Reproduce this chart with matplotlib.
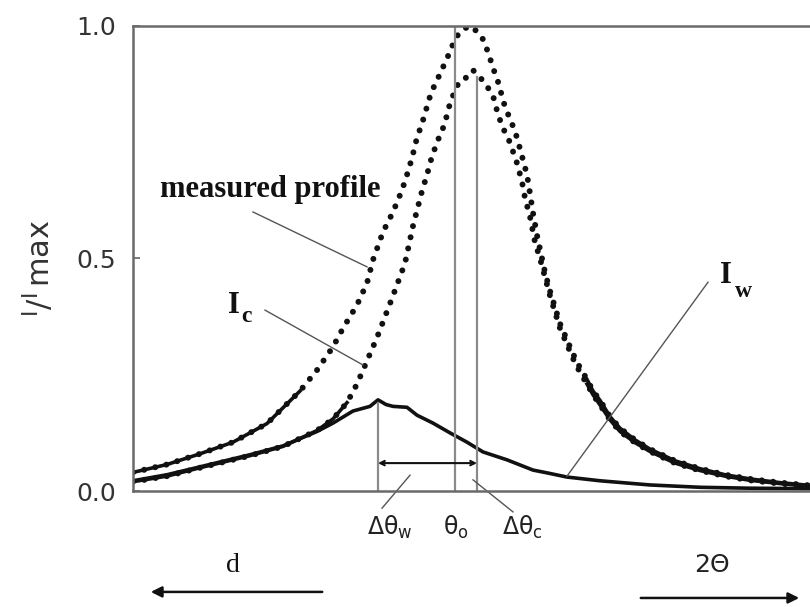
import numpy as np
import matplotlib
matplotlib.use('Agg')
import matplotlib.pyplot as plt

# measured profile (arbitrary 2-theta units, intensity normalised to I_max)
meas_x = [0.0, 3.4, 6.7, 10.0, 13.4, 16.7, 18.4, 20.0, 21.0, 22.4,
          23.4, 24.0, 25.0, 26.0, 26.9, 27.4, 27.9, 28.4, 28.9, 29.8,
          30.7, 31.6, 32.1, 32.6, 33.2, 33.7, 34.3, 34.9, 35.5, 36.0,
          36.5, 37.2, 37.9, 38.4, 38.9, 39.4, 39.7, 40.0, 40.4, 40.7,
          41.2, 41.7, 42.2, 42.7, 43.4, 44.0, 44.7, 45.4, 46.0, 46.7,
          47.7, 48.7, 50.2, 51.7, 54.2, 56.7, 59.2, 61.7, 64.7, 67.7]
meas_y = [0.040, 0.057, 0.080, 0.105, 0.145, 0.215, 0.260, 0.310, 0.350, 0.400,
          0.447, 0.497, 0.557, 0.600, 0.647, 0.680, 0.716, 0.760, 0.790, 0.856,
          0.897, 0.940, 0.966, 0.985, 0.995, 1.000, 0.990, 0.976, 0.944, 0.910,
          0.880, 0.826, 0.790, 0.760, 0.720, 0.680, 0.640, 0.598, 0.550, 0.520,
          0.470, 0.430, 0.395, 0.360, 0.325, 0.295, 0.265, 0.240, 0.215, 0.195,
          0.160, 0.135, 0.110, 0.090, 0.065, 0.048, 0.035, 0.026, 0.018, 0.012]

# I_c component
ic_x = [0.0, 3.4, 6.7, 11.7, 15.0, 18.4, 20.0, 21.4, 22.4, 23.4,
        24.4, 25.2, 26.0, 27.2, 28.0, 28.9, 29.4, 29.9, 30.7, 31.2,
        31.5, 32.0, 32.5, 33.0, 33.5, 34.0, 34.7, 35.5, 36.0, 36.5,
        37.0, 37.5, 38.0, 38.4, 38.9, 39.2, 39.7, 40.2, 40.7, 41.2,
        41.7, 42.2, 42.7, 43.4, 44.0, 44.7, 45.4, 46.0, 46.7, 47.7,
        48.7, 50.2, 51.7, 54.2, 56.7, 59.2, 61.7, 64.7, 67.7]
ic_y = [0.020, 0.032, 0.050, 0.076, 0.096, 0.130, 0.155, 0.190, 0.230, 0.280,
        0.330, 0.375, 0.420, 0.490, 0.570, 0.645, 0.680, 0.720, 0.766, 0.790,
        0.820, 0.850, 0.875, 0.880, 0.895, 0.905, 0.890, 0.867, 0.850, 0.810,
        0.780, 0.760, 0.730, 0.705, 0.665, 0.630, 0.590, 0.535, 0.500, 0.460,
        0.420, 0.385, 0.350, 0.315, 0.285, 0.255, 0.230, 0.207, 0.185, 0.153,
        0.128, 0.104, 0.085, 0.060, 0.044, 0.032, 0.023, 0.016, 0.010]

# I_w component
iw_x = [0.0, 3.4, 6.7, 11.7, 15.0, 18.4, 20.0, 22.0, 23.7, 24.5,
        25.3, 26.0, 27.4, 28.4, 30.0, 31.7, 33.4, 35.0, 37.4, 40.0,
        41.4, 43.4, 46.7, 51.7, 56.7, 61.7, 67.7]
iw_y = [0.022, 0.035, 0.052, 0.078, 0.097, 0.128, 0.146, 0.172, 0.182, 0.196,
        0.186, 0.182, 0.180, 0.163, 0.146, 0.125, 0.105, 0.084, 0.067, 0.045,
        0.039, 0.030, 0.022, 0.013, 0.008, 0.006, 0.005]

# marker positions
theta_o = 32.2
theta_c = 34.4
theta_w = 24.5

ink = '#111111'
grey = '#8a8a8a'
lead = '#555555'
serif = 'Liberation Serif'

fig = plt.figure(figsize=(8.1, 6.07), dpi=100)
ax = fig.add_axes([0.1642, 0.1911, 0.8358, 0.7661])
ax.set_xlim(0, 67.7)
ax.set_ylim(0, 1.0)

mx, my = np.array(meas_x), np.array(meas_y)
cx, cy = np.array(ic_x), np.array(ic_y)

dots = dict(ls=(0, (0.01, 1.9)), lw=4.3, dash_capstyle='round', color=ink)
ax.plot(mx, my, **dots)
ax.plot(cx, cy, **dots)
# tails look solid in the original (dense data points)
for x, y, lo in [(mx, my, 17.0), (cx, cy, 21.5)]:
    ax.plot(x[x <= lo], y[x <= lo], color=ink, lw=2.6)
    ax.plot(x[x >= 45.0], y[x >= 45.0], color=ink, lw=2.6)
ax.plot(iw_x, iw_y, color=ink, lw=2.6)

# vertical marker lines
ax.plot([theta_o, theta_o], [0, 1.0], color=grey, lw=1.6)
ax.plot([theta_c, theta_c], [0, 0.89], color=grey, lw=1.6)
ax.plot([theta_w, theta_w], [0, 0.19], color=grey, lw=1.6)
ax.annotate('', xy=(theta_w, 0.06), xytext=(theta_c, 0.06),
            arrowprops=dict(arrowstyle='<->', color=ink, lw=1.5,
                            shrinkA=0, shrinkB=0, mutation_scale=8))

# curve labels
ax.text(2.7, 0.632, 'measured profile', family=serif, fontsize=22,
        fontweight='bold', color=ink)
ax.plot([12.0, 23.4], [0.60, 0.482], color=lead, lw=1.0)
ax.text(9.5, 0.383, 'I', family=serif, fontsize=22, fontweight='bold', color=ink)
ax.text(10.8, 0.363, 'c', family=serif, fontsize=17, fontweight='bold', color=ink)
ax.plot([13.2, 23.0], [0.389, 0.271], color=lead, lw=1.0)
ax.text(58.7, 0.447, 'I', family=serif, fontsize=22, fontweight='bold', color=ink)
ax.text(60.2, 0.417, 'w', family=serif, fontsize=17, fontweight='bold', color=ink)
ax.plot([57.5, 43.4], [0.449, 0.032], color=lead, lw=1.0)

# labels under the axis
under = dict(ha='center', va='baseline', fontsize=17, color='#222222')
ax.text(25.7, -0.095, r'$\mathsf{\Delta\theta_w}$', **under)
ax.text(32.3, -0.095, r'$\mathsf{\theta_o}$', **under)
ax.text(38.9, -0.095, r'$\mathsf{\Delta\theta_c}$', **under)
ax.plot([24.9, 27.7], [-0.037, 0.034], color=lead, lw=1.0, clip_on=False)
ax.plot([34.0, 38.0], [0.024, -0.045], color=lead, lw=1.0, clip_on=False)

# direction arrows
ax.text(10.0, -0.174, 'd', family=serif, fontsize=20, ha='center', va='baseline', color=ink)
ax.annotate('', xy=(1.5, -0.217), xytext=(19.2, -0.217), annotation_clip=False,
            arrowprops=dict(arrowstyle='-|>', color=ink, lw=1.8, mutation_scale=16))
ax.text(57.9, -0.174, r'2$\Theta$', fontsize=18, ha='center', va='baseline', color='#222222')
ax.annotate('', xy=(66.9, -0.23), xytext=(50.5, -0.23), annotation_clip=False,
            arrowprops=dict(arrowstyle='-|>', color=ink, lw=1.8, mutation_scale=16))

# axes styling
ax.set_yticks([0.0, 0.5, 1.0])
ax.set_yticklabels(['0.0', '0.5', '1.0'])
ax.set_xticks([])
ax.tick_params(axis='y', direction='in', length=5, width=1.2, pad=12,
               labelsize=18, labelcolor='#333333', color='#666666')
ax.spines['right'].set_visible(False)
for s in ['left', 'top', 'bottom']:
    ax.spines[s].set_color('#6a6a6a')
    ax.spines[s].set_linewidth(1.8)

ax.text(-0.14, 0.48, r'$\mathsf{^{I}/^{I}\,max}$', transform=ax.transAxes,
        rotation=90, ha='center', va='center', fontsize=22, color='#333333')

fig.savefig('out.png', dpi=100)
